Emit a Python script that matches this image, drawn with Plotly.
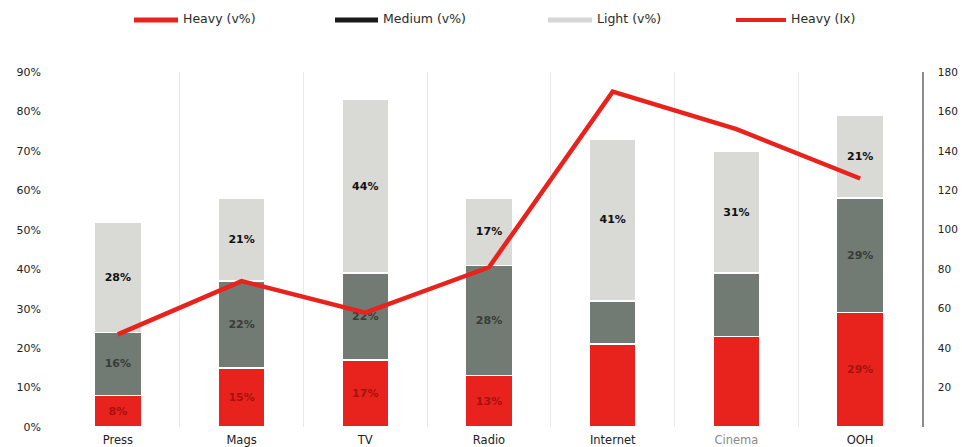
import plotly.graph_objects as go

# Media types
categories = ["Press", "Mags", "TV", "Radio", "Internet", "Cinema", "OOH"]

# Share of each user group (v%)
heavy_pct = [8, 15, 17, 13, 21, 23, 29]
medium_pct = [16, 22, 22, 28, 11, 16, 29]
light_pct = [28, 21, 44, 17, 41, 31, 21]

# Segment labels (blank where no label is printed)
heavy_labels = ["8%", "15%", "17%", "13%", "", "", "29%"]
medium_labels = ["16%", "22%", "22%", "28%", "", "", "29%"]
light_labels = ["28%", "21%", "44%", "17%", "41%", "31%", "21%"]

# Heavy user index (right axis)
heavy_index = [47, 74, 58, 81, 170, 151, 126]

left_ticks = list(range(0, 100, 10))
left_ticktext = [f"{v}%" for v in left_ticks]
right_ticks = list(range(20, 200, 20))

RED = "#e8221c"
MID = "#717a73"
LIGHT = "#d9d9d6"
FONT = "DejaVu Sans"

W, H = 962, 447
L, R, T, B = 56, 40, 72, 20
plot_w = W - L - R
plot_h = H - T - B


def px_x(x):
    return (x - L) / plot_w


def px_y(y):
    return (H - B - y) / plot_h


fig = go.Figure()

bar_common = dict(
    x=categories,
    width=0.38,
    textposition="inside",
    insidetextanchor="middle",
    textangle=0,
    constraintext="none",
    marker_line=dict(color="white", width=1.5),
    showlegend=False,
    hoverinfo="skip",
)

fig.add_trace(go.Bar(
    y=heavy_pct, text=heavy_labels, name="Heavy (v%)",
    marker_color=RED,
    textfont=dict(family=FONT, size=11, color="#a8120e", weight="bold"),
    **bar_common,
))
fig.add_trace(go.Bar(
    y=medium_pct, text=medium_labels, name="Medium (v%)",
    marker_color=MID,
    textfont=dict(family=FONT, size=11, color="#383d39", weight="bold"),
    **bar_common,
))
fig.add_trace(go.Bar(
    y=light_pct, text=light_labels, name="Light (v%)",
    marker_color=LIGHT,
    textfont=dict(family=FONT, size=11, color="#111111", weight="bold"),
    **bar_common,
))
fig.add_trace(go.Scatter(
    x=categories, y=heavy_index, name="Heavy (Ix)", yaxis="y2",
    mode="lines", line=dict(color=RED, width=4.5),
    showlegend=False, hoverinfo="skip",
))

# Hand-drawn legend row across the top
legend_items = [
    ("Heavy (v%)", RED, 134, 178, 5),
    ("Medium (v%)", "#1a1a1a", 335, 378, 5),
    ("Light (v%)", "#d6d6d6", 548, 592, 5),
    ("Heavy (Ix)", RED, 736, 786, 4),
]
shapes = []
annotations = []
for label, color, x0, x1, lw in legend_items:
    shapes.append(dict(
        type="line", xref="paper", yref="paper",
        x0=px_x(x0), x1=px_x(x1), y0=px_y(20), y1=px_y(20),
        line=dict(color=color, width=lw),
    ))
    annotations.append(dict(
        xref="paper", yref="paper", x=px_x(x1 + 3), y=px_y(19),
        text=label, showarrow=False, xanchor="left", yanchor="middle",
        font=dict(family=FONT, size=12.5, color="#2a2a2a"),
    ))

ticktext = [c if c != "Cinema" else "<span style='color:#8a8a8a'>Cinema</span>"
            for c in categories]

fig.update_layout(
    width=W, height=H,
    margin=dict(l=L, r=R, t=T, b=B, autoexpand=False),
    paper_bgcolor="white", plot_bgcolor="white",
    barmode="stack",
    bargap=0.62,
    font=dict(family=FONT, size=11, color="#222222"),
    xaxis=dict(
        tickvals=categories, ticktext=ticktext, automargin=False,
        tickson="boundaries", showgrid=True, gridcolor="#e9e9e9", gridwidth=1,
        ticks="", showline=False, zeroline=False,
        tickfont=dict(family=FONT, size=11.5, color="#222222"),
        ticklabelstandoff=4,
    ),
    yaxis=dict(
        range=[0, 90], tickvals=left_ticks, ticktext=left_ticktext,
        automargin=False,
        showgrid=False, zeroline=False, showline=False, ticks="",
        tickfont=dict(family=FONT, size=11, color="#222222"),
        ticklabelstandoff=14,
    ),
    yaxis2=dict(
        range=[0, 180], overlaying="y", side="right", automargin=False,
        tickvals=right_ticks, showgrid=False, zeroline=False,
        showline=True, linecolor="#8c8c8c", linewidth=1.5, ticks="",
        tickfont=dict(family=FONT, size=10.5, color="#222222"),
        ticklabelstandoff=12,
    ),
    shapes=shapes,
    annotations=annotations,
)

fig.write_html("out.html")
